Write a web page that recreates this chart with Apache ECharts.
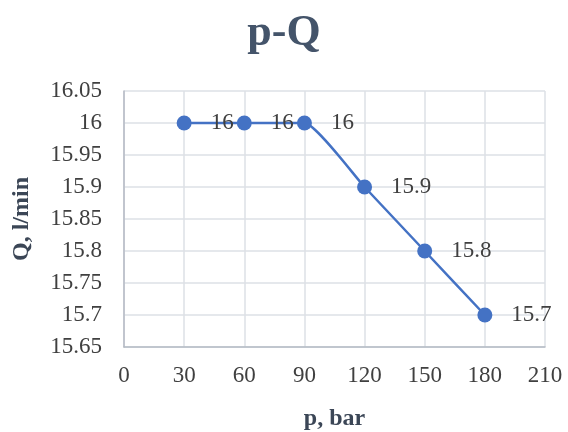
<!DOCTYPE html>
<html>
<head>
<meta charset="utf-8">
<script src="https://cdn.jsdelivr.net/npm/echarts@6/dist/echarts.min.js"></script>
<style>html,body{margin:0;padding:0;background:#fff}#c{width:568px;height:432px}</style>
</head>
<body>
<div id="c"></div>
<script>
const pressure = [30, 60, 90, 120, 150, 180];
const flow = [16, 16, 16, 15.9, 15.8, 15.7];
const titleText = 'p-Q';
const xName = 'p, bar';
const yName = 'Q, l/min';

const chart = echarts.init(document.getElementById('c'), null, {renderer: 'canvas'});
const serif = '"Liberation Serif", "Times New Roman", serif';
chart.setOption({
  animation: false,
  backgroundColor: '#ffffff',
  title: {
    text: titleText, left: 'center', top: 7,
    textStyle: {fontFamily: serif, fontWeight: 'bold', fontSize: 44, color: '#44546A'}
  },
  grid: {left: 124, right: 23, top: 91, bottom: 85, containLabel: false, outerBoundsMode: 'none'},
  xAxis: {
    type: 'value', min: 0, max: 210, interval: 30,
    name: xName, nameLocation: 'middle', nameGap: 60,
    nameTextStyle: {fontFamily: serif, fontWeight: 'bold', fontSize: 24, color: '#3B4656'},
    axisLine: {show: true, lineStyle: {color: '#b4bac4', width: 1.5}},
    axisTick: {show: false},
    axisLabel: {fontFamily: serif, fontSize: 23, color: '#404040', margin: 17},
    splitLine: {show: true, lineStyle: {color: '#dde1e6', width: 1.5}}
  },
  yAxis: {
    type: 'value', min: 15.65, max: 16.05, interval: 0.05,
    name: yName, nameLocation: 'middle', nameGap: 90, nameRotate: 90,
    nameTextStyle: {fontFamily: serif, fontWeight: 'bold', fontSize: 24, color: '#3B4656'},
    axisLine: {show: true, lineStyle: {color: '#b4bac4', width: 1.5}},
    axisTick: {show: false},
    axisLabel: {fontFamily: serif, fontSize: 23, color: '#404040', margin: 22,
      formatter: v => String(parseFloat(v.toFixed(2)))},
    splitLine: {show: true, lineStyle: {color: '#dde1e6', width: 1.5}}
  },
  series: [{
    type: 'line',
    data: pressure.map((p, i) => [p, flow[i]]),
    smooth: 0.15,
    symbol: 'circle', symbolSize: 15,
    lineStyle: {color: '#4472C4', width: 2.5},
    itemStyle: {color: '#4472C4'},
    label: {show: true, position: 'right', distance: 19,
      fontFamily: serif, fontSize: 23, color: '#404040',
      formatter: p => String(p.value[1])}
  }]
});
</script>
</body>
</html>
